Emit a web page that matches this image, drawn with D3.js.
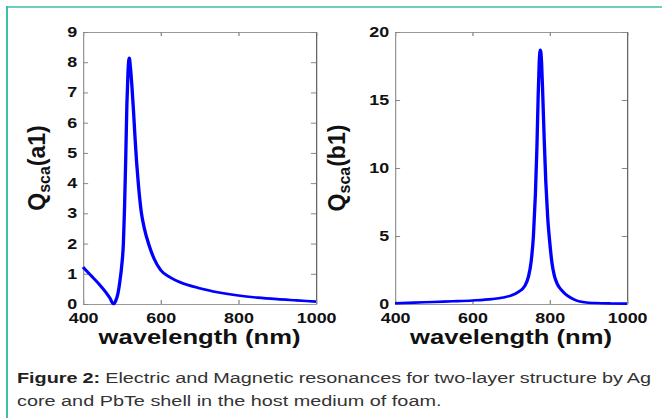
<!DOCTYPE html>
<html>
<head>
<meta charset="utf-8">
<script src="https://cdn.jsdelivr.net/npm/d3@7"></script>
<style>
  body { margin: 0; background: #fff; }
  svg { display: block; }
  text { font-family: "Liberation Sans", Arial, sans-serif; }
</style>
</head>
<body>
<div id="chart"></div>
<script>

// ---- data ----
var wavelengthTicks = [400, 600, 800, 1000];
var a1Ticks = [0, 1, 2, 3, 4, 5, 6, 7, 8, 9];
var b1Ticks = [0, 5, 10, 15, 20];

// electric dipole resonance, Qsca(a1)
var a1Wavelength = [400, 420, 440, 460, 470, 478, 484, 490, 495, 500, 504, 507, 510, 513, 516, 519,
                    522, 526, 530, 534, 538, 543, 550, 558, 570, 583,
                    600, 625, 650, 700, 750, 800, 850, 900, 950, 1000];
var a1Values = [1.22, 0.95, 0.68, 0.37, 0.18, 0.0, 0.1, 0.35, 0.75, 1.3, 2.0, 3.2, 4.8, 6.6, 7.7, 8.15,
                7.85, 7.2, 6.4, 5.5, 4.7, 3.9, 3.05, 2.5, 1.95, 1.5,
                1.12, 0.88, 0.72, 0.52, 0.38, 0.28, 0.21, 0.16, 0.12, 0.08];

// magnetic dipole resonance, Qsca(b1)
var b1Wavelength = [400, 450, 500, 550, 600, 650, 680, 700, 720, 735, 745, 752, 758, 763, 767,
                    770, 773, 776, 779, 782, 786, 790, 795, 800, 806,
                    812, 820, 830, 840, 855, 870, 890, 920, 960, 1000];
var b1Values = [0.05, 0.1, 0.15, 0.2, 0.26, 0.36, 0.48, 0.62, 0.9, 1.3, 2.0, 3.1, 5.0, 8.0, 11.5,
                15.0, 17.8, 18.7, 17.8, 15.5, 12.0, 9.0, 6.3, 4.6, 3.0,
                2.1, 1.45, 1.05, 0.75, 0.45, 0.25, 0.13, 0.07, 0.04, 0.03];

var captionBold = 'Figure 2:';
var captionLine1 = 'Electric and Magnetic resonances for two-layer structure by Ag';
var captionLine2 = 'core and PbTe shell in the host medium of foam.';


var W = 662, H = 418;
var S = 1.28;   // the figure is stretched sideways, draw in a squeezed frame and scale it

var svg = d3.select('#chart').append('svg')
    .attr('width', W)
    .attr('height', H);

// teal frame round the figure
svg.append('line').attr('x1', 7).attr('x2', 7).attr('y1', 6).attr('y2', H)
    .attr('stroke', '#3dbfa9').attr('stroke-width', 2);
svg.append('line').attr('x1', 6).attr('x2', W).attr('y1', 7).attr('y2', 7)
    .attr('stroke', '#3dbfa9').attr('stroke-width', 1.5);

var g = svg.append('g').attr('transform', 'scale(' + S + ',1)');

var panels = [
  { left: 83,  right: 316, top: 32, bottom: 304, wl: a1Wavelength, vals: a1Values,
    yMax: 9,  yTicks: a1Ticks, name: 'a1', titleX: 45 },
  { left: 395, right: 627, top: 32, bottom: 304, wl: b1Wavelength, vals: b1Values,
    yMax: 20, yTicks: b1Ticks, name: 'b1', titleX: 345 }
];

function styleAxis(sel) {
  sel.attr('font-family', null).attr('font-size', null);
  sel.select('.domain').attr('stroke', '#999').attr('stroke-width', 1);
  sel.selectAll('.tick line').attr('stroke', '#888');
  sel.selectAll('.tick text')
      .attr('fill', '#111')
      .style('font-size', '14px')
      .style('font-weight', 'bold');
}

panels.forEach(function (p) {
  var x = d3.scaleLinear().domain([400, 1000]).range([p.left / S, p.right / S]);
  var y = d3.scaleLinear().domain([0, p.yMax]).range([p.bottom, p.top]);
  var pg = g.append('g');

  pg.append('g')
      .attr('transform', 'translate(0,' + p.top + ')')
      .call(d3.axisTop(x).tickValues(wavelengthTicks).tickSizeInner(-4).tickSizeOuter(0).tickFormat(''))
      .call(styleAxis);

  pg.append('g')
      .attr('transform', 'translate(' + x(1000) + ',0)')
      .call(d3.axisRight(y).tickValues(p.yTicks).tickSizeInner(-4).tickSizeOuter(0).tickFormat(''))
      .call(styleAxis)
      .select('.domain').attr('stroke', '#666');

  pg.append('g')
      .attr('transform', 'translate(0,' + p.bottom + ')')
      .call(d3.axisBottom(x).tickValues(wavelengthTicks).tickFormat(d3.format('d'))
              .tickSizeInner(-4).tickSizeOuter(0).tickPadding(9.5))
      .call(styleAxis);

  pg.append('g')
      .attr('transform', 'translate(' + x(400) + ',0)')
      .call(d3.axisLeft(y).tickValues(p.yTicks).tickFormat(d3.format('d'))
              .tickSizeInner(-4).tickSizeOuter(0).tickPadding(4.5))
      .call(styleAxis);

  var line = d3.line()
      .x(function (d, i) { return x(p.wl[i]); })
      .y(function (d) { return y(d); })
      .curve(d3.curveMonotoneX);

  pg.append('path')
      .datum(p.vals)
      .attr('d', line)
      .attr('fill', 'none')
      .attr('stroke', '#0000ff')
      .attr('stroke-width', 2.6)
      .attr('stroke-linejoin', 'round');

  pg.append('text')
      .attr('x', (x(400) + x(1000)) / 2)
      .attr('y', 344)
      .attr('text-anchor', 'middle')
      .attr('fill', '#111')
      .style('font-size', '20px')
      .style('font-weight', 'bold')
      .text('wavelength (nm)');

  // y title is not stretched, so it goes on the outer svg
  var yt = svg.append('text')
      .attr('transform', 'translate(' + p.titleX + ',' + ((p.top + p.bottom) / 2) + ') rotate(-90)')
      .attr('text-anchor', 'middle')
      .attr('fill', '#111')
      .style('font-size', '23px')
      .style('font-weight', 'bold');
  yt.append('tspan').text('Q');
  yt.append('tspan').attr('dy', 5).style('font-size', '16px').text('sca');
  yt.append('tspan').attr('dy', -5).text('(' + p.name + ')');
});

// caption, first line justified
var capLeft = 17 / S, capRight = 651 / S;
var c1 = g.append('text')
    .attr('x', capLeft)
    .attr('y', 383)
    .attr('fill', '#333')
    .style('font-size', '15.5px');
c1.append('tspan').style('font-weight', 'bold').attr('fill', '#222').text(captionBold);
c1.append('tspan').text(' ' + captionLine1);
var natural = c1.node().getComputedTextLength();
var gaps = (captionBold + ' ' + captionLine1).split(' ').length - 1;
c1.attr('word-spacing', (capRight - capLeft - natural) / gaps);

g.append('text')
    .attr('x', capLeft)
    .attr('y', 406)
    .attr('fill', '#333')
    .style('font-size', '15.5px')
    .text(captionLine2);

</script>
</body>
</html>
